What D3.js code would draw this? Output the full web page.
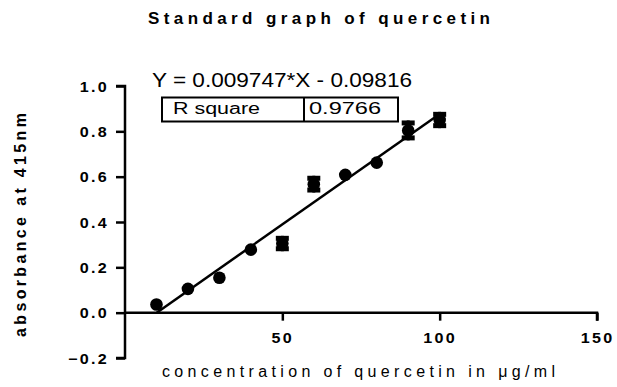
<!DOCTYPE html>
<html>
<head>
<meta charset="utf-8">
<script src="https://cdn.jsdelivr.net/npm/d3@7"></script>
<style>
  body { margin: 0; background: #fff; }
  svg { font-family: Arial, "Liberation Sans", sans-serif; }
</style>
</head>
<body>
<svg id="chart" width="617" height="387"></svg>
<script>
// concentration (µg/ml) vs absorbance at 415nm
var conc = [10, 20, 30, 40, 50, 60, 70, 80, 90, 100];
var absorb = [0.036, 0.105, 0.154, 0.278, 0.305, 0.567, 0.608, 0.662, 0.804, 0.850];
var errs = [0, 0, 0, 0, 0.034, 0.037, 0, 0, 0.044, 0.036];
var xTicks = [50, 100, 150];
var yTicks = [-0.2, 0.0, 0.2, 0.4, 0.6, 0.8, 1.0];
var slope = 0.009747, intercept = -0.09816, rSquare = '0.9766';

var svg = d3.select('#chart');
var x = d3.scaleLinear().domain([0, 150]).range([125, 597]);
var y = d3.scaleLinear().domain([-0.2, 1.0]).range([358, 86]);

// stretch a text to k times its width (the original figure is wide-set)
function stretch(t, k) {
    var w = t.node().getComputedTextLength();
    t.attr('textLength', w * k).attr('lengthAdjust', 'spacingAndGlyphs');
    return w * k;
}

// title
svg.append('text')
    .attr('x', 148).attr('y', 24)
    .attr('font-size', 17).attr('font-weight', 'bold')
    .attr('textLength', 342).attr('lengthAdjust', 'spacing')
    .text('Standard graph of quercetin');

// y axis
var yAxis = d3.axisLeft(y).tickValues(yTicks).tickSize(9).tickFormat(d3.format('.1f'));
var yG = svg.append('g').attr('transform', 'translate(' + x(0) + ',0)').call(yAxis);
yG.select('.domain').attr('d', 'M-9,' + y(1.0) + 'H0V' + y(-0.2) + 'H-9');

// x axis along y = 0
var xAxis = d3.axisBottom(x).tickValues(xTicks).tickSize(8);
var xG = svg.append('g').attr('transform', 'translate(0,' + y(0) + ')').call(xAxis);
xG.select('.domain').attr('d', 'M' + x(0) + ',0H' + x(150) + 'V8');

[yG, xG].forEach(function (g) {
    g.selectAll('.domain, .tick line').attr('stroke', '#000').attr('stroke-width', 2.5);
    g.selectAll('.tick text')
        .attr('fill', '#000')
        .attr('font-size', 14).attr('font-weight', 'bold')
        .attr('letter-spacing', 2)
        .attr('font-family', 'Arial, "Liberation Sans", sans-serif')
        .attr('text-anchor', 'start');
});
yG.selectAll('.tick text').each(function () {
    var t = d3.select(this).attr('dy', null).attr('y', 5);
    var w = stretch(t, 1.15);
    t.attr('x', -16 - w);
});
xG.selectAll('.tick text').each(function () {
    var t = d3.select(this).attr('dy', null).attr('y', 30);
    var w = stretch(t, 1.15);
    t.attr('x', -w / 2);
});

// axis titles
svg.append('text')
    .attr('transform', 'translate(26,225) rotate(-90)')
    .attr('text-anchor', 'middle')
    .attr('font-size', 16).attr('font-weight', 'bold')
    .attr('textLength', 224).attr('lengthAdjust', 'spacing')
    .text('absorbance at 415nm');

svg.append('text')
    .attr('x', 162).attr('y', 377)
    .attr('font-size', 16)
    .attr('textLength', 393).attr('lengthAdjust', 'spacing')
    .text('concentration of quercetin in \u03bcg/ml');

// regression line
var x0 = -intercept / slope;
svg.append('line')
    .attr('x1', x(x0)).attr('y1', y(slope * x0 + intercept))
    .attr('x2', x(100)).attr('y2', y(slope * 100 + intercept))
    .attr('stroke', '#000').attr('stroke-width', 2.5);

// points with error bars
var pts = svg.append('g').selectAll('g').data(conc).enter().append('g');
pts.each(function (c, i) {
    var g = d3.select(this);
    var cx = x(c), e = errs[i];
    g.append('circle').attr('cx', cx).attr('cy', y(absorb[i])).attr('r', 6.3).attr('fill', '#000');
    if (e > 0) {
        var top = y(absorb[i] + e), bot = y(absorb[i] - e);
        g.append('line').attr('x1', cx).attr('x2', cx).attr('y1', top).attr('y2', bot)
            .attr('stroke', '#000').attr('stroke-width', 3);
        g.append('rect').attr('x', cx - 6.5).attr('y', top).attr('width', 13).attr('height', 5);
        g.append('rect').attr('x', cx - 6.5).attr('y', bot - 5).attr('width', 13).attr('height', 5);
    }
});

// equation and R square box
svg.append('text')
    .attr('x', 152).attr('y', 87)
    .attr('font-size', 20)
    .attr('textLength', 260).attr('lengthAdjust', 'spacingAndGlyphs')
    .text('Y = ' + slope + '*X - ' + Math.abs(intercept));

var box = svg.append('g');
box.append('rect').attr('x', 162).attr('y', 97.5).attr('width', 236).attr('height', 24)
    .attr('fill', 'none').attr('stroke', '#000').attr('stroke-width', 2);
box.append('line').attr('x1', 304).attr('x2', 304).attr('y1', 97.5).attr('y2', 121.5)
    .attr('stroke', '#000').attr('stroke-width', 2);
box.append('text').attr('x', 173).attr('y', 114).attr('font-size', 16)
    .attr('textLength', 87).attr('lengthAdjust', 'spacingAndGlyphs').text('R square');
box.append('text').attr('x', 309).attr('y', 114).attr('font-size', 16)
    .attr('textLength', 72).attr('lengthAdjust', 'spacingAndGlyphs').text(rSquare);
</script>
</body>
</html>
